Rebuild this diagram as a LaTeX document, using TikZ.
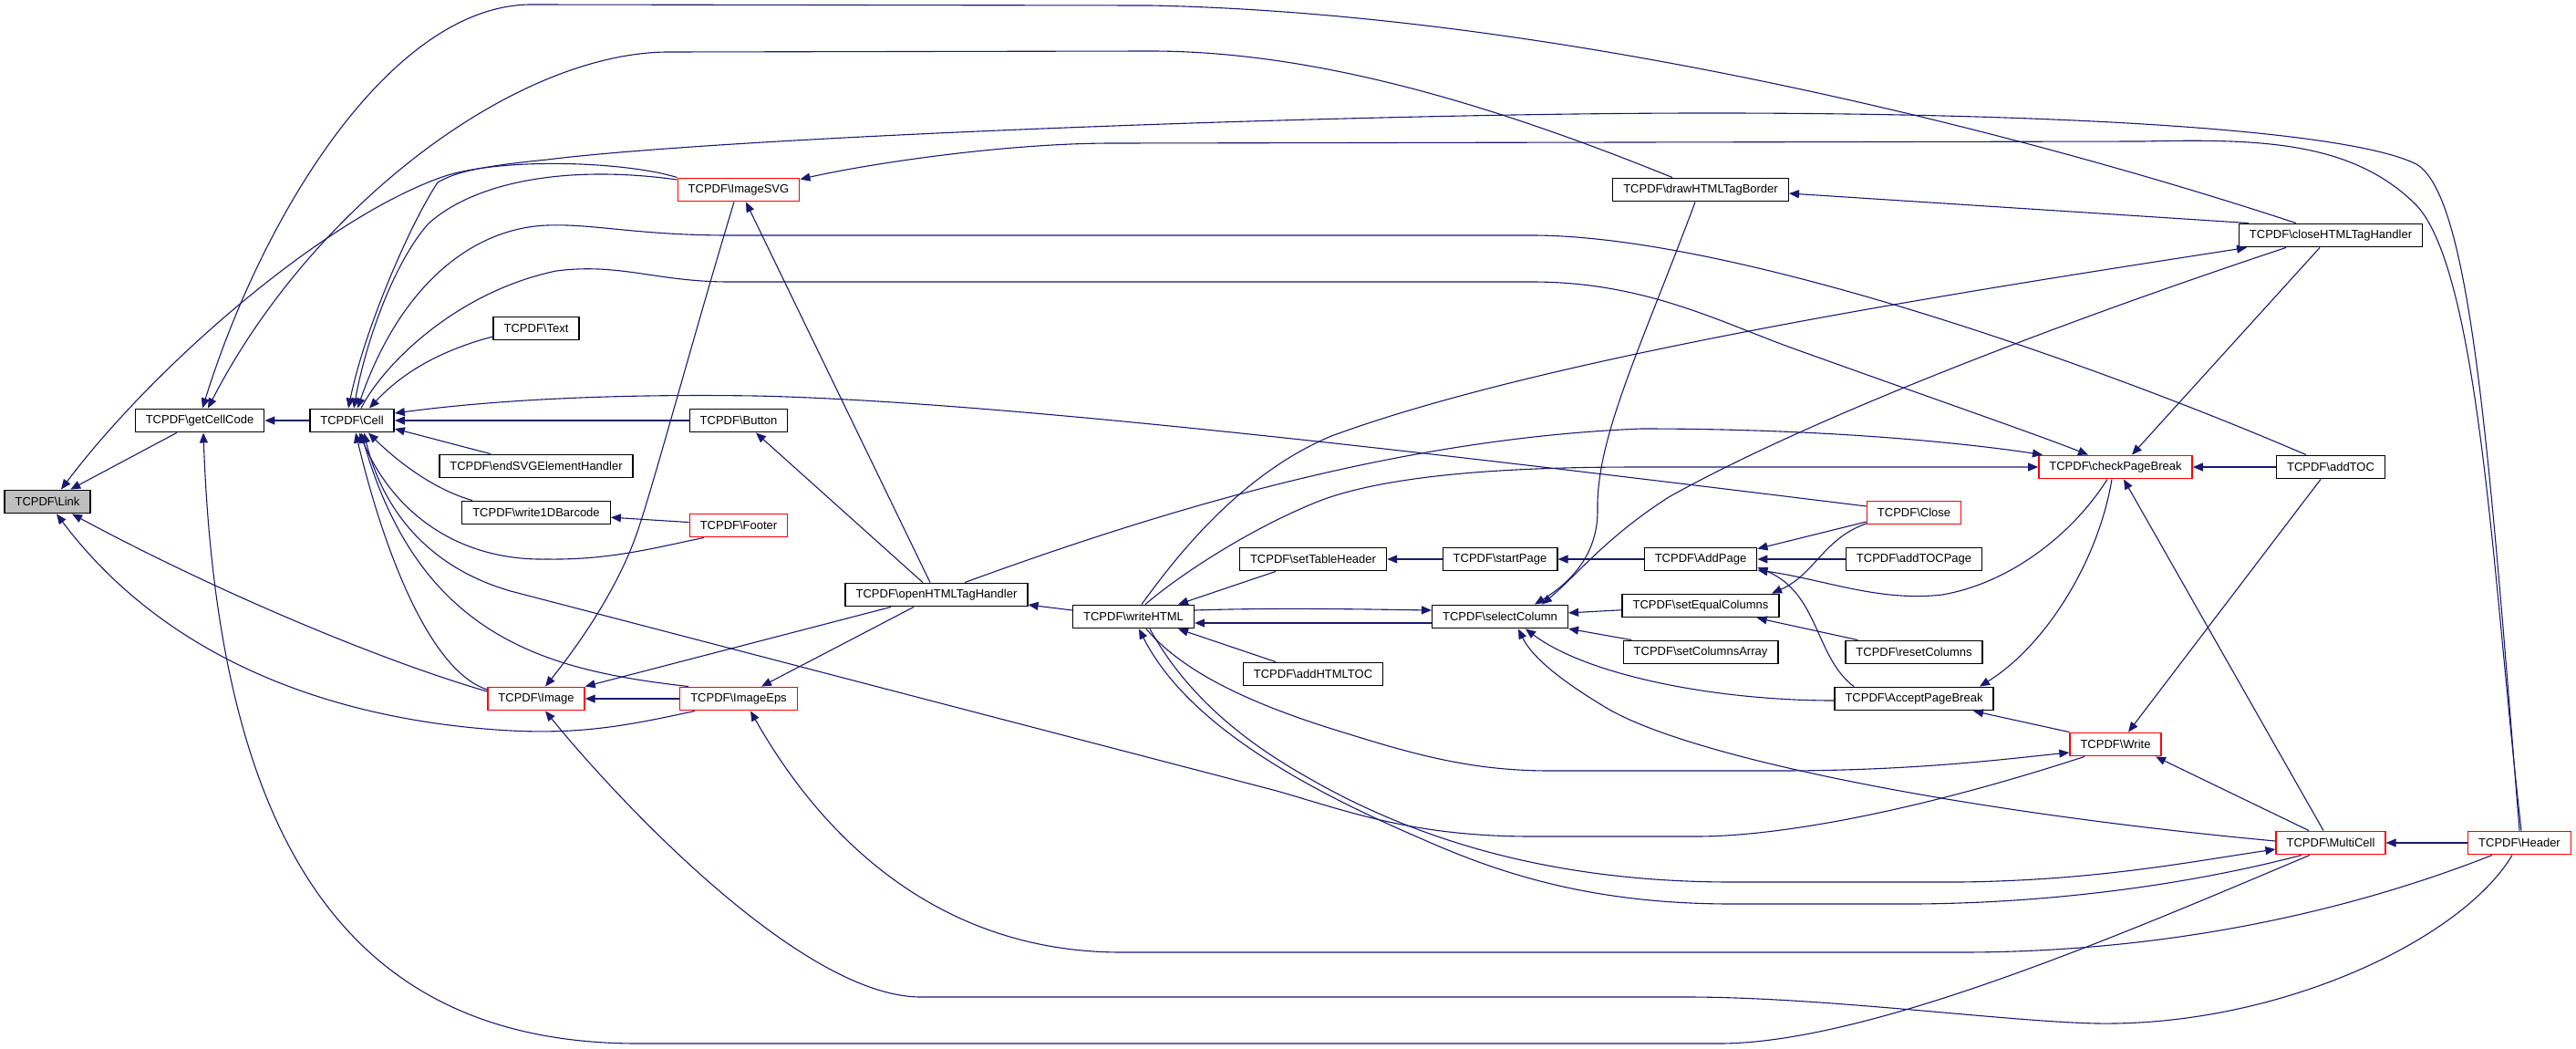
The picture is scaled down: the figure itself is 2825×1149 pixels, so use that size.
\documentclass[tikz,border=0pt]{standalone}
\usepackage{fontspec}
\setmainfont{Liberation Sans}
\usetikzlibrary{arrows.meta}
\definecolor{edgeblue}{RGB}{25,25,112}
\definecolor{rootgray}{RGB}{191,191,191}
\tikzstyle{fn} = [
  rectangle,
  draw=black,
  line width=1.4pt,
  fill=white,
  minimum height=25.5pt,
  inner xsep=11.5pt,
  inner ysep=0pt,
  font=\fontsize{13}{15}\selectfont
]
\tikzstyle{fnred} = [
  fn,
  draw=red
]
\tikzstyle{fnroot} = [
  fn,
  fill=rootgray
]
\tikzstyle{call} = [
  draw=edgeblue,
  line width=1.1pt,
  -{Triangle[length=11pt,width=9pt]}
]
\begin{document}
\begin{tikzpicture}[x=1pt,y=-1pt]
    \useasboundingbox (0,0) rectangle (2825,1149);

    \node (link) [fnroot] at (52,550) {TCPDF\textbackslash{}Link};
    \node (getcellcode) [fn] at (219,461) {TCPDF\textbackslash{}getCellCode};
    \node (cell) [fn] at (386,461) {TCPDF\textbackslash{}Cell};
    \node (text) [fn] at (588,360) {TCPDF\textbackslash{}Text};
    \node (endsvg) [fn] at (588,511) {TCPDF\textbackslash{}endSVGElementHandler};
    \node (barcode) [fn] at (588,562) {TCPDF\textbackslash{}write1DBarcode};
    \node (image) [fnred] at (588,766) {TCPDF\textbackslash{}Image};
    \node (imagesvg) [fnred] at (810,208) {TCPDF\textbackslash{}ImageSVG};
    \node (button) [fn] at (810,461) {TCPDF\textbackslash{}Button};
    \node (footer) [fnred] at (810,576) {TCPDF\textbackslash{}Footer};
    \node (imageeps) [fnred] at (810,766) {TCPDF\textbackslash{}ImageEps};
    \node (openhtml) [fn] at (1027,652) {TCPDF\textbackslash{}openHTMLTagHandler};
    \node (writehtml) [fn] at (1243,676) {TCPDF\textbackslash{}writeHTML};
    \node (settableheader) [fn] at (1440,613) {TCPDF\textbackslash{}setTableHeader};
    \node (addhtmltoc) [fn] at (1440,739) {TCPDF\textbackslash{}addHTMLTOC};
    \node (drawborder) [fn] at (1865,208) {TCPDF\textbackslash{}drawHTMLTagBorder};
    \node (startpage) [fn] at (1645,613) {TCPDF\textbackslash{}startPage};
    \node (selectcolumn) [fn] at (1645,676) {TCPDF\textbackslash{}selectColumn};
    \node (addpage) [fn] at (1865,613) {TCPDF\textbackslash{}AddPage};
    \node (setequal) [fn] at (1865,664) {TCPDF\textbackslash{}setEqualColumns};
    \node (setarray) [fn] at (1865,715) {TCPDF\textbackslash{}setColumnsArray};
    \node (close) [fnred] at (2099,562) {TCPDF\textbackslash{}Close};
    \node (addtocpage) [fn] at (2099,613) {TCPDF\textbackslash{}addTOCPage};
    \node (resetcolumns) [fn] at (2099,715) {TCPDF\textbackslash{}resetColumns};
    \node (acceptbreak) [fn] at (2099,766) {TCPDF\textbackslash{}AcceptPageBreak};
    \node (closehtml) [fn] at (2556,258) {TCPDF\textbackslash{}closeHTMLTagHandler};
    \node (checkbreak) [fnred] at (2320,512) {TCPDF\textbackslash{}checkPageBreak};
    \node (addtoc) [fn] at (2556,512) {TCPDF\textbackslash{}addTOC};
    \node (write) [fnred] at (2320,816) {TCPDF\textbackslash{}Write};
    \node (multicell) [fnred] at (2556,924) {TCPDF\textbackslash{}MultiCell};
    \node (header) [fnred] at (2763,924) {TCPDF\textbackslash{}Header};

    % callers of Link
    \draw [call] (getcellcode) -- (link);
    \draw [call] (imagesvg.north west) .. controls (690,178) and (560,172) .. (491,192) .. controls (360,235) and (170,400) .. ([xshift=15pt]link.north);
    \draw [call] ([yshift=8pt]image.west) .. controls (420,725) and (240,650) .. ([xshift=27pt]link.south);
    \draw [call] ([xshift=-48pt]imageeps.south) .. controls (690,795) and (640,805) .. (560,801) .. controls (360,790) and (180,720) .. ([xshift=10pt]link.south);

    % callers of getCellCode
    \draw [call] (cell) -- (getcellcode);
    \draw [call] ([xshift=-38pt]closehtml.north) .. controls (2200,140) and (1700,15) .. (1262,6) -- (580,5) .. controls (430,8) and (290,230) .. ([xshift=3pt]getcellcode.north);
    \draw [call] ([xshift=-31pt]drawborder.north) .. controls (1650,120) and (1450,56) .. (1262,56) -- (730,57) .. controls (560,60) and (340,230) .. ([xshift=9pt]getcellcode.north);
    \draw [call] ([xshift=-23pt]multicell.south) .. controls (2330,1023) and (2050,1144) .. (1885,1144) -- (700,1144) .. controls (400,1144) and (240,950) .. ([xshift=4pt]getcellcode.south);

    % callers of Cell
    \draw [call] ([yshift=-9pt]text.west) .. controls (480,385) and (440,410) .. ([xshift=19pt]cell.north);
    \draw [call] (button) -- (cell);
    \draw [call] ([xshift=-50pt]endsvg.north) -- ([yshift=-9pt]cell.east);
    \draw [call] ([xshift=-70pt]barcode.north) .. controls (480,538) and (440,510) .. ([xshift=18pt]cell.south);
    \draw [call] ([xshift=-38pt]footer.south) .. controls (720,600) and (670,614) .. (600,613) .. controls (500,615) and (430,560) .. ([xshift=8pt]cell.south);
    \draw [call] ([yshift=10pt]image.west) .. controls (470,735) and (420,600) .. ([xshift=4pt]cell.south);
    \draw [call] ([xshift=-55pt]imageeps.north) .. controls (600,735) and (460,700) .. ([xshift=10pt]cell.south);
    \draw [call] ([xshift=-34pt]write.south) .. controls (2100,890) and (1950,917) .. (1860,917) -- (1680,917) .. controls (1550,917) and (1480,890) .. (1400,867) -- (560,648) .. controls (470,622) and (420,560) .. ([xshift=13pt]cell.south);
    \draw [call] ([yshift=7pt]close.west) .. controls (1600,500) and (1100,440) .. (829,434) .. controls (700,432) and (560,436) .. ([yshift=8pt]cell.east);
    \draw [call] ([yshift=11pt]imagesvg.west) .. controls (620,180) and (520,200) .. (470,245) .. controls (430,290) and (400,380) .. ([xshift=2pt]cell.north);
    \draw [call] (header.north) .. controls (2730,500) and (2710,215) .. (2650,180) .. controls (2580,145) and (2300,125) .. (1900,124) .. controls (1500,123) and (800,150) .. (600,175) .. controls (530,182) and (500,188) .. (480,200) .. controls (450,245) and (400,360) .. ([xshift=-4pt]cell.north);
    \draw [call] ([xshift=-27pt]addtoc.north) .. controls (2300,400) and (1900,258) .. (1680,258) -- (800,258) .. controls (700,258) and (650,245) .. (600,247) .. controls (520,250) and (440,310) .. ([xshift=6pt]cell.north);

    % callers of write1DBarcode, Button, ImageSVG, Image, ImageEps
    \draw [call] (footer) -- (barcode);
    \draw [call] ([xshift=-15pt]openhtml.north) -- ([xshift=19pt]button.south);
    \draw [call] ([xshift=-7pt]openhtml.north) -- ([xshift=8pt]imagesvg.south);
    \draw [call] ([xshift=2pt]header.north) .. controls (2735,650) and (2720,300) .. (2650,225) .. controls (2580,155) and (2480,152) .. (2350,155) -- (1220,157) .. controls (1100,157) and (950,180) .. ([yshift=-2pt]imagesvg.north east);
    \draw [call] ([xshift=-5pt]imagesvg.south) .. controls (760,370) and (720,520) .. (700,580) .. controls (680,640) and (640,700) .. ([xshift=10pt]image.north);
    \draw [call] (imageeps) -- (image);
    \draw [call] ([xshift=-50pt]openhtml.south) -- (image.north east);
    \draw [call] ([xshift=-8pt]header.south) .. controls (2700,1030) and (2500,1125) .. (2300,1122) .. controls (2200,1120) and (2000,1093) .. (1850,1093) -- (1010,1093) .. controls (880,1093) and (680,880) .. ([xshift=10pt]image.south);
    \draw [call] ([xshift=-25pt]openhtml.south) -- ([xshift=25pt]imageeps.north);
    \draw [call] ([xshift=-30pt]header.south) .. controls (2600,990) and (2400,1044) .. (2150,1044) -- (1230,1044) .. controls (1000,1044) and (880,880) .. ([xshift=13pt]imageeps.south);

    % callers of openHTMLTagHandler and writeHTML
    \draw [call] ([yshift=7pt]writehtml.west) -- ([yshift=-11pt]openhtml.east);
    \draw [call] ([xshift=-41pt]settableheader.south) -- ([xshift=49pt]writehtml.north);
    \draw [call] ([xshift=-41pt]addhtmltoc.north) -- ([xshift=49pt]writehtml.south);
    \draw [call] ([yshift=-7pt]selectcolumn.west) -- ([yshift=-7pt]writehtml.east);
    \draw [call] ([xshift=-32pt]multicell.south) .. controls (2400,970) and (2250,990) .. (2100,991) -- (1900,991) .. controls (1750,991) and (1650,960) .. (1560,920) .. controls (1420,860) and (1300,790) .. ([xshift=6pt]writehtml.south);

    % callers of selectColumn
    \draw [call] ([yshift=7pt]writehtml.east) .. controls (1400,666) and (1500,668) .. ([yshift=7pt]selectcolumn.west);
    \draw [call] (setequal) -- (selectcolumn);
    \draw [call] (setarray) -- (selectcolumn);
    \draw [call] ([yshift=-2pt]acceptbreak.west) .. controls (1880,768) and (1740,740) .. ([xshift=28pt]selectcolumn.south);
    \draw [call] ([yshift=2pt]multicell.west) .. controls (2150,890) and (1850,830) .. (1760,775) .. controls (1710,745) and (1680,720) .. ([xshift=20pt]selectcolumn.south);
    \draw [call] ([xshift=-6pt]drawborder.south) .. controls (1800,380) and (1750,480) .. (1752,560) .. controls (1752,610) and (1720,640) .. ([xshift=38pt]selectcolumn.north);
    \draw [call] ([xshift=-49pt]closehtml.south) .. controls (2300,340) and (2000,450) .. (1830,545) .. controls (1760,590) and (1730,630) .. ([xshift=46pt]selectcolumn.north);

    % page handling
    \draw [call] (startpage) -- (settableheader);
    \draw [call] (addpage) -- (startpage);
    \draw [call] ([yshift=-10pt]close.west) -- ([yshift=-2pt]addpage.north east);
    \draw [call] (addtocpage) -- (addpage);
    \draw [call] ([xshift=-9pt]checkbreak.south) .. controls (2270,590) and (2200,640) .. (2130,652) .. controls (2060,660) and (2000,635) .. ([yshift=-12pt]addpage.east);
    \draw [call] ([xshift=-66pt]acceptbreak.north) .. controls (1990,720) and (1995,650) .. ([yshift=-9pt]addpage.east);
    \draw [call] (resetcolumns) -- (setequal);
    \draw [call] ([yshift=-12pt]close.west) .. controls (2000,590) and (1990,630) .. ([xshift=78pt]setequal.north);
    \draw [call] ([xshift=-4pt]checkbreak.south) .. controls (2300,620) and (2240,710) .. ([xshift=72pt]acceptbreak.north);
    \draw [call] (write.north west) -- ([xshift=65pt]acceptbreak.south);

    % callers of checkPageBreak
    \draw [call] ([xshift=31pt]openhtml.north) .. controls (1300,550) and (1550,480) .. (1800,470) .. controls (2000,470) and (2150,485) .. ([xshift=-80pt]checkbreak.north);
    \draw [call] ([xshift=13pt]writehtml.north) .. controls (1300,625) and (1380,575) .. (1450,548) .. controls (1540,515) and (1700,512) .. (1800,512) -- (checkbreak.west);
    \draw [call] ([xshift=10pt]cell.north) .. controls (420,400) and (500,320) .. (610,297) .. controls (680,288) and (720,309) .. (800,309) -- (1680,309) .. controls (1800,309) and (1880,350) .. (1961,380) .. controls (2100,430) and (2230,475) .. ([xshift=-30pt]checkbreak.north);
    \draw [call] ([xshift=-12pt]closehtml.south) -- ([xshift=18pt]checkbreak.north);
    \draw [call] (addtoc) -- (checkbreak);
    \draw [call] ([xshift=-8pt]multicell.north) -- ([xshift=9pt]checkbreak.south);

    % callers of closeHTMLTagHandler and drawHTMLTagBorder
    \draw [call] ([xshift=9pt]writehtml.north) .. controls (1290,610) and (1360,520) .. (1460,478) .. controls (1700,390) and (2150,320) .. ([xshift=-92pt]closehtml.south);
    \draw [call] ([xshift=-90pt]closehtml.north) -- ([yshift=-4pt]drawborder.east);

    % callers of Write and MultiCell
    \draw [call] ([xshift=14pt]writehtml.south) .. controls (1300,740) and (1380,775) .. (1480,805) .. controls (1560,830) and (1620,845) .. (1700,845) -- (1950,845) .. controls (2100,845) and (2200,832) .. ([yshift=-9pt]write.west);
    \draw [call] ([xshift=-11pt]addtoc.south) -- ([xshift=14pt]write.north);
    \draw [call] ([xshift=-24pt]multicell.north) -- ([xshift=44pt]write.south);
    \draw [call] ([xshift=18pt]writehtml.south) .. controls (1300,760) and (1360,810) .. (1430,850) .. controls (1550,920) and (1700,967) .. (1900,967) -- (2150,967) .. controls (2300,965) and (2400,945) .. ([yshift=-7pt]multicell.west);
    \draw [call] (header) -- (multicell);

\end{tikzpicture}
\end{document}
